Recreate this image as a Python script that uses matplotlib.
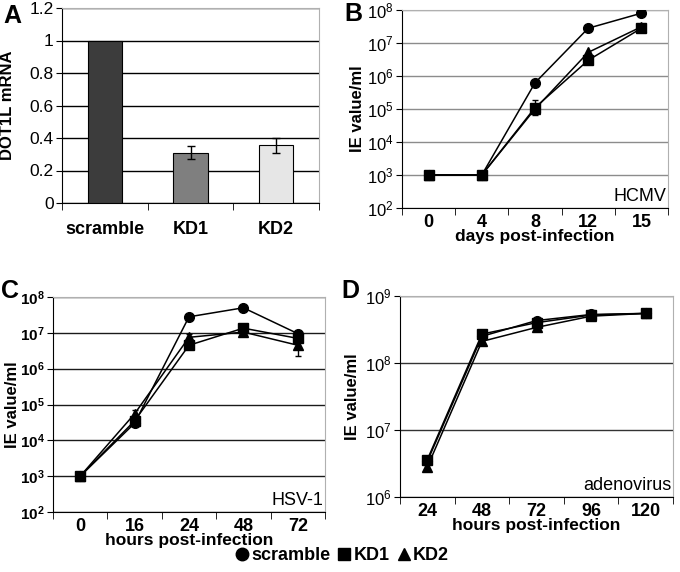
import numpy as np
import matplotlib.pyplot as plt
from matplotlib.lines import Line2D

plt.rcParams['font.family'] = ['Liberation Sans', 'DejaVu Sans']
plt.rcParams['mathtext.default'] = 'regular'

# panel A
bar_labels = ["scramble", "KD1", "KD2"]
bar_values = [1.0, 0.31, 0.355]
bar_errors = [0.0, 0.04, 0.045]
bar_colors = ["#3c3c3c", "#7f7f7f", "#e6e6e6"]

# panel B (HCMV)
hcmv_days = ["0", "4", "8", "12", "15"]
hcmv_scramble = [1e3, 1e3, 6.2e5, 2.8e7, 8.0e7]
hcmv_kd1 = [1e3, 1e3, 1.1e5, 3.0e6, 2.8e7]
hcmv_kd2 = [1e3, 1e3, 1.0e5, 5.2e6, 3.1e7]
hcmv_kd1_err_lo = [0, 0, 4.5e4, 5e5, 3e6]
hcmv_kd1_err_hi = [0, 0, 7.5e4, 5e5, 3e6]

# panel C (HSV-1)
hsv_hours = ["0", "16", "24", "48", "72"]
hsv_scramble = [1e3, 3.0e4, 2.8e7, 5.0e7, 9.5e6]
hsv_kd1 = [1e3, 3.5e4, 4.5e6, 1.35e7, 7.0e6]
hsv_kd2 = [1e3, 5.5e4, 7.5e6, 1.05e7, 4.5e6]
hsv_kd2_err_lo = [0, 1.5e4, 1.5e6, 1.5e6, 2.3e6]
hsv_kd2_err_hi = [0, 1.5e4, 1.5e6, 1.5e6, 2.5e6]

# panel D (adenovirus)
ad_hours = ["24", "48", "72", "96", "120"]
ad_scramble = [3.4e6, 2.5e8, 4.3e8, 5.3e8, 5.5e8]
ad_kd1 = [3.6e6, 2.7e8, 4.0e8, 5.2e8, 5.5e8]
ad_kd2 = [2.8e6, 2.1e8, 3.4e8, 5.0e8, 5.5e8]
ad_err = [4e5, 3e7, 4e7, 8e7, 5e7]


def style_axes(ax, grid_color):
    ax.spines["left"].set_color("black")
    ax.spines["bottom"].set_color("black")
    ax.spines["top"].set_color("#b0b0b0")
    ax.spines["right"].set_color("#b0b0b0")
    ax.yaxis.grid(True, color=grid_color, lw=1.0)
    ax.set_axisbelow(True)


def category_ticks(ax, labels):
    n = len(labels)
    ax.set_xlim(-0.5, n - 0.5)
    ax.set_xticks(range(n))
    ax.set_xticklabels(labels, fontsize=13, fontweight="bold")
    ax.set_xticks(np.arange(-0.5, n, 1.0), minor=True)
    ax.tick_params(axis="x", which="major", length=0, pad=4)
    ax.tick_params(axis="x", which="minor", length=5, direction="out")


def log_panel(ax, series, err, lo, hi, grid_color, ybold, tag, xlabel, ylab_x):
    x = np.arange(len(series[0]))
    sc, k1, k2 = series
    ax.plot(x, sc, color="black", lw=1.1, marker="o", ms=7, zorder=4)
    ax.errorbar(x, k1, yerr=err[0], color="black", lw=1.1, marker="s", ms=7,
                capsize=2.5, elinewidth=1, zorder=4)
    ax.errorbar(x, k2, yerr=err[1], color="black", lw=1.1, marker="^", ms=7,
                capsize=2.5, elinewidth=1, zorder=4)
    ax.set_yscale("log")
    ax.set_ylim(lo, hi)
    exps = range(int(np.log10(lo)), int(np.log10(hi)) + 1)
    ax.set_yticks([10.0 ** e for e in exps])
    ax.set_yticklabels([r"$10^{%d}$" % e for e in exps],
                       fontsize=11 if ybold else 12,
                       fontweight="bold" if ybold else "normal")
    ax.yaxis.set_minor_locator(plt.NullLocator())
    ax.tick_params(axis="y", length=4, direction="out", pad=2)
    ax.set_ylabel("IE value/ml", fontsize=12, fontweight="bold")
    ax.yaxis.set_label_coords(ylab_x, 0.5)
    ax.set_xlabel(xlabel, fontsize=12.5, fontweight="bold", labelpad=-1)
    ax.text(0.995, 0.015, tag, transform=ax.transAxes, ha="right",
            va="bottom", fontsize=13)
    style_axes(ax, grid_color)


fig = plt.figure(figsize=(6.8, 5.72), dpi=100)

# A
axA = fig.add_axes([62 / 680, 1 - 203 / 572, 257 / 680, 195 / 572])
xa = np.arange(len(bar_labels))
axA.bar(xa, bar_values, width=0.4, color=bar_colors, edgecolor="black",
        lw=0.8, zorder=3)
axA.errorbar(xa[1:], bar_values[1:], yerr=bar_errors[1:], fmt="none",
             ecolor="black", capsize=3, elinewidth=1, zorder=4)
axA.set_ylim(0, 1.2)
axA.set_yticks([0, 0.2, 0.4, 0.6, 0.8, 1, 1.2])
axA.set_yticklabels(["0", "0.2", "0.4", "0.6", "0.8", "1", "1.2"],
                    fontsize=12.5)
axA.tick_params(axis="y", length=4, direction="out", pad=2)
category_ticks(axA, bar_labels)
axA.tick_params(axis="x", which="major", pad=13)
axA.set_ylabel("DOT1L mRNA", fontsize=12, fontweight="bold")
axA.yaxis.set_label_coords(-0.183, 0.5)
style_axes(axA, "black")

# B
axB = fig.add_axes([402 / 680, 1 - 208 / 572, 266 / 680, 198 / 572])
category_ticks(axB, hcmv_days)
log_panel(axB, (hcmv_scramble, hcmv_kd1, hcmv_kd2),
          ([hcmv_kd1_err_lo, hcmv_kd1_err_hi], None), 1e2, 1e8, "#8c8c8c",
          False, "HCMV", "days post-infection", -0.139)

# C
axC = fig.add_axes([53 / 680, 1 - 512 / 572, 272 / 680, 215 / 572])
category_ticks(axC, hsv_hours)
log_panel(axC, (hsv_scramble, hsv_kd1, hsv_kd2),
          (None, [hsv_kd2_err_lo, hsv_kd2_err_hi]), 1e2, 1e8, "#1a1a1a",
          True, "HSV-1", "hours post-infection", -0.12)

# D
axD = fig.add_axes([400 / 680, 1 - 497 / 572, 273 / 680, 201 / 572])
category_ticks(axD, ad_hours)
log_panel(axD, (ad_scramble, ad_kd1, ad_kd2), (ad_err, None), 1e6, 1e9,
          "#333333", False, "adenovirus", "hours post-infection", -0.147)

for lab, px, py in [("A", 3, 4), ("B", 344, 2), ("C", 1, 279), ("D", 341, 279)]:
    fig.text(px / 680, 1 - py / 572, lab, fontsize=18, fontweight="bold",
             ha="left", va="top")

handles = [Line2D([], [], color="black", marker=m, ls="none", ms=9)
           for m in ["o", "s", "^"]]
fig.legend(handles, ["scramble", "KD1", "KD2"], loc="center",
           bbox_to_anchor=(0.5, 1 - 556 / 572), ncol=3, frameon=False,
           handletextpad=-0.1, columnspacing=0.2, handlelength=1.2,
           prop={"size": 13, "weight": "bold"})

fig.savefig("out.png", dpi=100)
